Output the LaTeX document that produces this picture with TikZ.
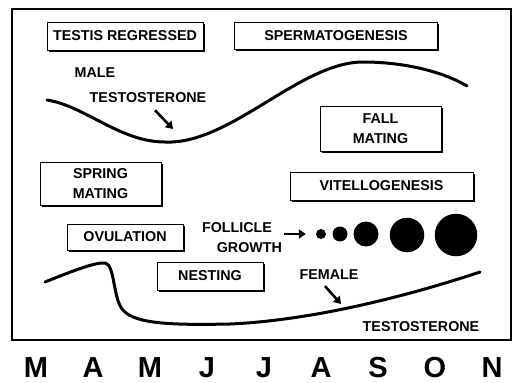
\documentclass[tikz,border=0pt]{standalone}
\usepackage{fontspec}
\setmainfont{Liberation Sans}
\usepackage{tikz}
\usetikzlibrary{arrows, arrows.meta, positioning, shadows, calc}

\begin{document}
\begin{tikzpicture}[x=1pt, y=-1pt,
    season/.style={rectangle, draw=black, fill=white, line width=0.9pt, inner sep=0pt, align=center, font=\bfseries\fontsize{14.3}{20}\selectfont, drop shadow={shadow xshift=1.8pt, shadow yshift=-1.8pt, fill=black, opacity=1}},
    caption/.style={align=center, inner sep=0pt, font=\bfseries\fontsize{14.3}{20}\selectfont},
    level/.style={line width=3pt, line cap=round},
    pointer/.style={-{Triangle[length=7pt,width=9pt]}, line width=2.6pt},
    follicle/.style={circle, fill=black, inner sep=0pt},
    month/.style={inner sep=0pt, font=\bfseries\fontsize{29}{29}\selectfont}]

\useasboundingbox (0,0) rectangle (515,383);
\draw[line width=2.6pt] (12,9) rectangle (511,340);

% male events
\node[season, minimum width=156, minimum height=28] (testis) at (125,36) {TESTIS REGRESSED};
\node[season, minimum width=203, minimum height=27] (sperm) at (336,35.5) {SPERMATOGENESIS};
\node[season, minimum width=121, minimum height=45] (fall) at (380.5,128.5) {FALL\\MATING};
\node[season, minimum width=121, minimum height=43] (spring) at (100.5,183.5) {SPRING\\MATING};

% female events
\node[season, minimum width=183, minimum height=28] (vitello) at (381.5,186) {VITELLOGENESIS};
\node[season, minimum width=116, minimum height=26] (ovul) at (125,237) {OVULATION};
\node[season, minimum width=106, minimum height=28] (nest) at (210,276) {NESTING};

% male testosterone
\node[caption] (male) at (95,73) {MALE};
\node[caption] (mtesto) at (148,98) {TESTOSTERONE};
\coordinate (mtip) at (173,129);
\draw[level] (47,100) .. controls (85,106) and (120,142) .. (165,142)
    .. controls (230,145) and (300,62) .. (363,62)
    .. controls (400,62) and (440,70) .. (467,86);
\draw[pointer] ([shift={(7,7)}]mtesto.south) -- (mtip);

% follicle growth
\node[caption, align=right] (growth) at (242,238) {FOLLICLE\hspace*{10pt}\\GROWTH};
\node[follicle, minimum size=10] (f1) at (321,234) {};
\node[follicle, minimum size=15] (f2) at (340,234) {};
\node[follicle, minimum size=25] (f3) at (366,234) {};
\node[follicle, minimum size=34.5] (f4) at (407,235) {};
\node[follicle, minimum size=42.5] (f5) at (456,235) {};
\draw[pointer, shorten <=2pt, shorten >=10pt] (growth.east |- f1.center) -- (f1.west);

% female testosterone
\node[caption] (female) at (329,275) {FEMALE};
\node[caption] (ftesto) at (421,327) {TESTOSTERONE};
\coordinate (ftip) at (341,304);
\draw[level] (45,282) .. controls (70,272) and (95,262) .. (105,263)
    .. controls (115,264) and (113,300) .. (123,310)
    .. controls (135,325) and (180,325) .. (230,324)
    .. controls (320,320) and (420,292) .. (480,272);
\draw[pointer] ([shift={(-4,6)}]female.south) -- (ftip);

% months
\node[month] (mar) at (36,368) {M};
\node[month] (apr) at (93,368) {A};
\node[month] (may) at (150,368) {M};
\node[month] (jun) at (207,368) {J};
\node[month] (jul) at (264,368) {J};
\node[month] (aug) at (321,368) {A};
\node[month] (sep) at (378,368) {S};
\node[month] (oct) at (435,368) {O};
\node[month] (nov) at (492,368) {N};
\end{tikzpicture}
\end{document}
